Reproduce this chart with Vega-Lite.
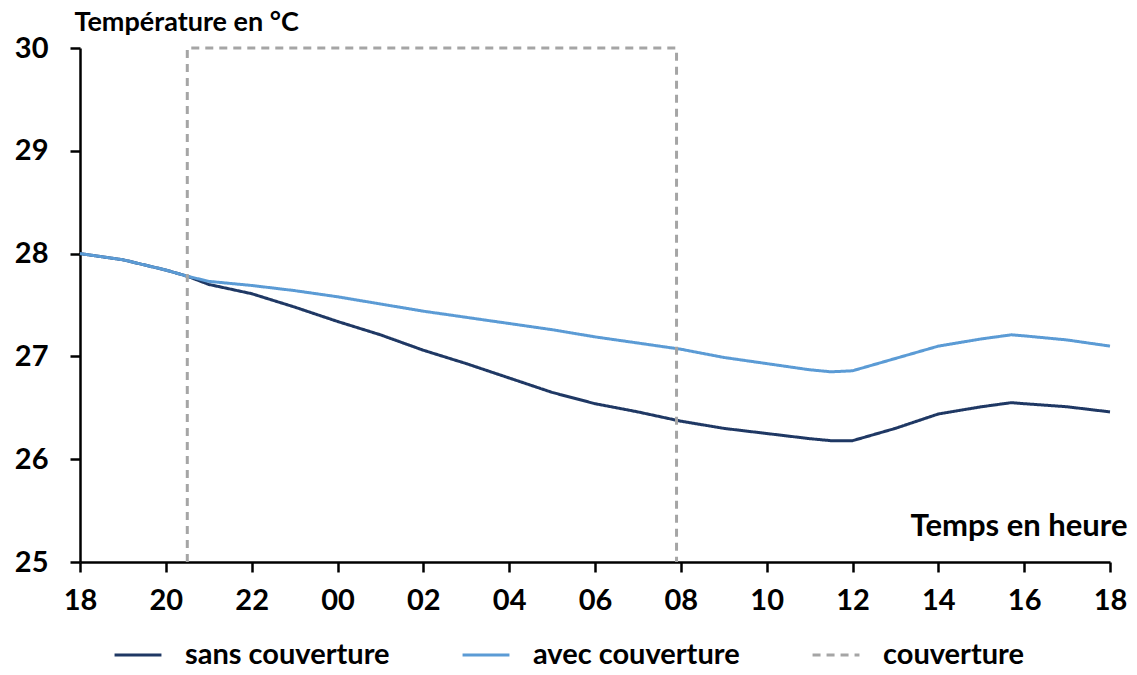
{
  "$schema": "https://vega.github.io/schema/vega-lite/v6.json",
  "autosize": "none",
  "width": 1030,
  "height": 514,
  "padding": {"left": 80, "top": 48, "right": 27, "bottom": 113},
  "background": "white",
  "config": {
    "view": {"stroke": null},
    "font": "Lato"
  },
  "data": {
    "values": [
      {"serie": "sans couverture", "i": 0, "h": 0, "t": 28.0},
      {"serie": "sans couverture", "i": 1, "h": 1, "t": 27.94},
      {"serie": "sans couverture", "i": 2, "h": 2, "t": 27.84},
      {"serie": "sans couverture", "i": 3, "h": 2.5, "t": 27.78},
      {"serie": "sans couverture", "i": 4, "h": 3, "t": 27.7},
      {"serie": "sans couverture", "i": 5, "h": 4, "t": 27.61},
      {"serie": "sans couverture", "i": 6, "h": 5, "t": 27.48},
      {"serie": "sans couverture", "i": 7, "h": 6, "t": 27.34},
      {"serie": "sans couverture", "i": 8, "h": 7, "t": 27.21},
      {"serie": "sans couverture", "i": 9, "h": 8, "t": 27.06},
      {"serie": "sans couverture", "i": 10, "h": 9, "t": 26.93},
      {"serie": "sans couverture", "i": 11, "h": 10, "t": 26.79},
      {"serie": "sans couverture", "i": 12, "h": 11, "t": 26.65},
      {"serie": "sans couverture", "i": 13, "h": 12, "t": 26.54},
      {"serie": "sans couverture", "i": 14, "h": 13, "t": 26.46},
      {"serie": "sans couverture", "i": 15, "h": 14, "t": 26.37},
      {"serie": "sans couverture", "i": 16, "h": 15, "t": 26.3},
      {"serie": "sans couverture", "i": 17, "h": 16, "t": 26.25},
      {"serie": "sans couverture", "i": 18, "h": 17, "t": 26.2},
      {"serie": "sans couverture", "i": 19, "h": 17.5, "t": 26.18},
      {"serie": "sans couverture", "i": 20, "h": 18, "t": 26.18},
      {"serie": "sans couverture", "i": 21, "h": 19, "t": 26.3},
      {"serie": "sans couverture", "i": 22, "h": 20, "t": 26.44},
      {"serie": "sans couverture", "i": 23, "h": 21, "t": 26.51},
      {"serie": "sans couverture", "i": 24, "h": 21.7, "t": 26.55},
      {"serie": "sans couverture", "i": 25, "h": 22, "t": 26.54},
      {"serie": "sans couverture", "i": 26, "h": 23, "t": 26.51},
      {"serie": "sans couverture", "i": 27, "h": 24, "t": 26.46},
      {"serie": "avec couverture", "i": 0, "h": 0, "t": 28.0},
      {"serie": "avec couverture", "i": 1, "h": 1, "t": 27.94},
      {"serie": "avec couverture", "i": 2, "h": 2, "t": 27.84},
      {"serie": "avec couverture", "i": 3, "h": 2.5, "t": 27.78},
      {"serie": "avec couverture", "i": 4, "h": 3, "t": 27.73},
      {"serie": "avec couverture", "i": 5, "h": 4, "t": 27.69},
      {"serie": "avec couverture", "i": 6, "h": 5, "t": 27.64},
      {"serie": "avec couverture", "i": 7, "h": 6, "t": 27.58},
      {"serie": "avec couverture", "i": 8, "h": 7, "t": 27.51},
      {"serie": "avec couverture", "i": 9, "h": 8, "t": 27.44},
      {"serie": "avec couverture", "i": 10, "h": 9, "t": 27.38},
      {"serie": "avec couverture", "i": 11, "h": 10, "t": 27.32},
      {"serie": "avec couverture", "i": 12, "h": 11, "t": 27.26},
      {"serie": "avec couverture", "i": 13, "h": 12, "t": 27.19},
      {"serie": "avec couverture", "i": 14, "h": 13, "t": 27.13},
      {"serie": "avec couverture", "i": 15, "h": 14, "t": 27.07},
      {"serie": "avec couverture", "i": 16, "h": 15, "t": 26.99},
      {"serie": "avec couverture", "i": 17, "h": 16, "t": 26.93},
      {"serie": "avec couverture", "i": 18, "h": 17, "t": 26.87},
      {"serie": "avec couverture", "i": 19, "h": 17.5, "t": 26.85},
      {"serie": "avec couverture", "i": 20, "h": 18, "t": 26.86},
      {"serie": "avec couverture", "i": 21, "h": 19, "t": 26.98},
      {"serie": "avec couverture", "i": 22, "h": 20, "t": 27.1},
      {"serie": "avec couverture", "i": 23, "h": 21, "t": 27.17},
      {"serie": "avec couverture", "i": 24, "h": 21.7, "t": 27.21},
      {"serie": "avec couverture", "i": 25, "h": 22, "t": 27.2},
      {"serie": "avec couverture", "i": 26, "h": 23, "t": 27.16},
      {"serie": "avec couverture", "i": 27, "h": 24, "t": 27.1},
      {"serie": "couverture", "i": 0, "h": 2.5, "t": 25},
      {"serie": "couverture", "i": 1, "h": 2.5, "t": 30},
      {"serie": "couverture", "i": 2, "h": 13.9, "t": 30},
      {"serie": "couverture", "i": 3, "h": 13.9, "t": 25}
    ]
  },
  "mark": {"type": "line", "strokeWidth": 3, "clip": false},
  "encoding": {
    "x": {
      "field": "h",
      "type": "quantitative",
      "scale": {"domain": [0, 24], "nice": false, "zero": false},
      "axis": {
        "values": [0, 2, 4, 6, 8, 10, 12, 14, 16, 18, 20, 22, 24],
        "labelExpr": "(((datum.value+18)%24) < 10 ? '0' : '') + ((datum.value+18)%24)",
        "grid": false,
        "domainColor": "black",
        "domainWidth": 2.5,
        "tickColor": "black",
        "tickWidth": 2.5,
        "tickSize": 10,
        "labelFont": "Lato",
        "labelFontWeight": "bold",
        "labelFontSize": 29,
        "labelColor": "black",
        "labelPadding": 14,
        "labelFlush": false,
        "title": "Temps en heure",
        "titleFont": "Lato",
        "titleFontWeight": "bold",
        "titleFontSize": 31,
        "titleColor": "black",
        "titleAnchor": null,
        "titleAlign": "right",
        "titleBaseline": "middle",
        "titleX": 1047,
        "titleY": -36
      }
    },
    "y": {
      "field": "t",
      "type": "quantitative",
      "scale": {"domain": [25, 30], "nice": false, "zero": false},
      "axis": {
        "values": [25, 26, 27, 28, 29, 30],
        "grid": false,
        "domainColor": "black",
        "domainWidth": 2.5,
        "tickColor": "black",
        "tickWidth": 2.5,
        "tickSize": 10,
        "labelFont": "Lato",
        "labelFontWeight": "bold",
        "labelFontSize": 29,
        "labelColor": "black",
        "labelPadding": 22,
        "labelFlush": false,
        "title": "Température en °C",
        "titleFont": "Lato",
        "titleFontWeight": "bold",
        "titleFontSize": 27,
        "titleColor": "black",
        "titleAngle": 0,
        "titleAnchor": null,
        "titleAlign": "left",
        "titleBaseline": "middle",
        "titleX": -6,
        "titleY": -26
      }
    },
    "color": {
      "field": "serie",
      "type": "nominal",
      "scale": {
        "domain": ["sans couverture", "avec couverture", "couverture"],
        "range": ["#1F3864", "#5B9BD5", "#A5A5A5"]
      },
      "legend": {
        "title": null,
        "orient": "none",
        "direction": "horizontal",
        "legendX": 33,
        "legendY": 582,
        "symbolType": "stroke",
        "symbolSize": 2200,
        "symbolStrokeWidth": 3,
        "labelFont": "Lato",
        "labelFontWeight": "bold",
        "labelFontSize": 29,
        "labelColor": "black",
        "labelOffset": 22,
        "columnPadding": 66,
        "labelLimit": 400
      }
    },
    "strokeDash": {
      "field": "serie",
      "type": "nominal",
      "scale": {
        "domain": ["sans couverture", "avec couverture", "couverture"],
        "range": [[1, 0], [1, 0], [8, 6]]
      },
      "legend": {
        "title": null,
        "orient": "none",
        "direction": "horizontal",
        "legendX": 33,
        "legendY": 582,
        "symbolType": "stroke",
        "symbolSize": 2200,
        "symbolStrokeWidth": 3,
        "labelFont": "Lato",
        "labelFontWeight": "bold",
        "labelFontSize": 29,
        "labelColor": "black",
        "labelOffset": 22,
        "columnPadding": 66,
        "labelLimit": 400
      }
    },
    "order": {"field": "i", "type": "quantitative"}
  }
}
